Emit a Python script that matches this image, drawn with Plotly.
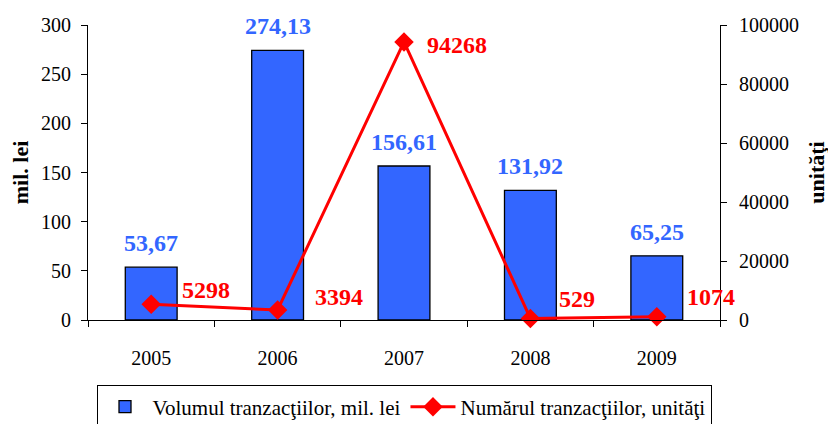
import plotly.graph_objects as go

years = ["2005", "2006", "2007", "2008", "2009"]
volume = [53.67, 274.13, 156.61, 131.92, 65.25]
count = [5298, 3394, 94268, 529, 1074]
left_ticks = [0, 50, 100, 150, 200, 250, 300]
right_ticks = [0, 20000, 40000, 60000, 80000, 100000]

label_shift = [(29, 14), (35, 13), (21, -3), (27, 19), (28, 20)]

FONT = "Liberation Serif"
BLUE = "#3366FF"
RED = "#FF0000"

fig = go.Figure()
fig.add_trace(go.Bar(
    x=years, y=volume, name="Volumul tranzacţiilor, mil. lei",
    marker=dict(color=BLUE, line=dict(color="black", width=1.3)),
))
fig.add_trace(go.Scatter(
    x=years, y=count, yaxis="y2", name="Numărul tranzacţiilor, unităţi",
    mode="lines+markers",
    line=dict(color=RED, width=3),
    marker=dict(symbol="diamond", size=15, color=RED),
    cliponaxis=False,
))
for i, v in enumerate(volume):
    fig.add_annotation(x=i, y=v, xref="x", yref="y",
                       text="<b>" + f"{v:.2f}".replace(".", ",") + "</b>",
                       showarrow=False, xanchor="center", yanchor="bottom", yshift=9,
                       font=dict(family=FONT, size=24, color=BLUE))
for i, (c, (dx, dy)) in enumerate(zip(count, label_shift)):
    fig.add_annotation(x=i, y=c, xref="x", yref="y2", text=f"<b>{c}</b>",
                       showarrow=False, xanchor="left", yanchor="middle",
                       xshift=dx, yshift=dy,
                       font=dict(family=FONT, size=24, color=RED))

fig.update_layout(
    template="none",
    width=828, height=416,
    margin=dict(l=80, r=116, t=17, b=104, autoexpand=False),
    paper_bgcolor="white", plot_bgcolor="white",
    font=dict(family=FONT, size=20, color="black"),
    bargap=0.59,
    showlegend=True,
    legend=dict(orientation="h", x=0.5, xanchor="center", y=-0.222, yanchor="top",
                bordercolor="black", borderwidth=1, bgcolor="white", itemwidth=45,
                font=dict(family=FONT, size=21, color="black")),
    xaxis=dict(type="category", categoryarray=years, range=[-0.5, len(years) - 0.5],
               showline=True, linecolor="black", linewidth=1, automargin=False,
               ticks="outside", tickson="boundaries", ticklen=6, tickcolor="black",
               ticklabelstandoff=20,
               showgrid=False, tickfont=dict(family=FONT, size=20)),
    yaxis=dict(range=[0, 300], tickvals=left_ticks, showline=True, linecolor="black",
               automargin=False, ticklabelstandoff=6,
               ticks="outside", ticklen=6, tickcolor="black", showgrid=False, zeroline=False,
               tickfont=dict(family=FONT, size=20),
               title=dict(text="<b>mil. lei</b>", font=dict(family=FONT, size=22), standoff=10)),
    yaxis2=dict(range=[0, 100000], tickvals=right_ticks, ticktext=[str(t) for t in right_ticks],
                overlaying="y", side="right", automargin=False, ticklabelstandoff=8,
                showline=True, linecolor="black", ticks="outside", ticklen=6, tickcolor="black",
                showgrid=False, zeroline=False, tickfont=dict(family=FONT, size=20),
                title=dict(text="<b>unităţi</b>", font=dict(family=FONT, size=22), standoff=10)),
)

fig.write_html("out.html")
